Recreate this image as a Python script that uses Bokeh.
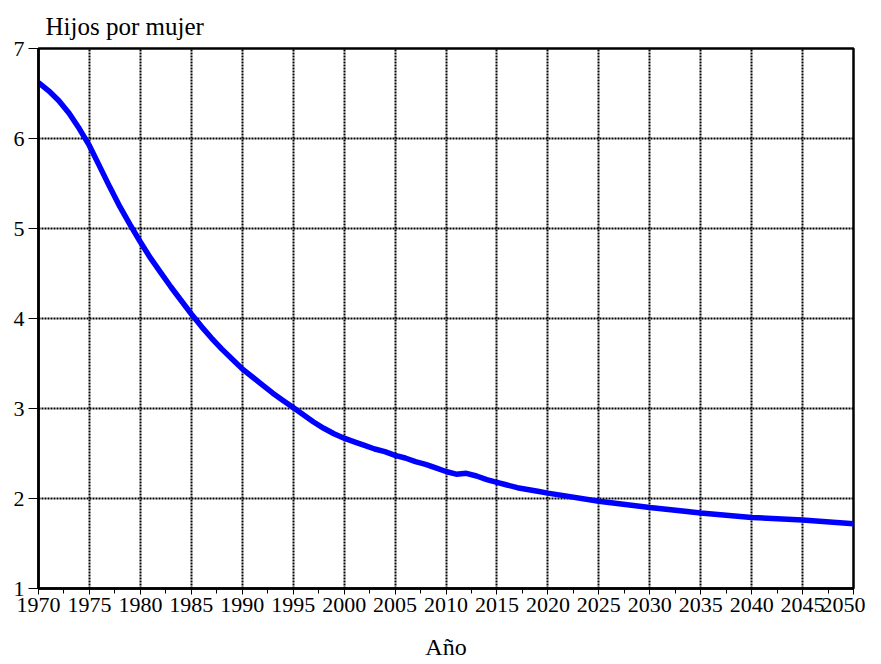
from bokeh.plotting import figure
from bokeh.models import Range1d, FixedTicker, Title
from bokeh.embed import file_html
from bokeh.resources import INLINE

years = list(range(1970, 2021)) + [2025, 2030, 2035, 2040, 2045, 2050]
tfr = [6.62, 6.53, 6.42, 6.28, 6.11, 5.92, 5.69, 5.46, 5.24, 5.04,
       4.85, 4.67, 4.51, 4.35, 4.20, 4.05, 3.91, 3.78, 3.66, 3.55,
       3.44, 3.35, 3.26, 3.17, 3.09, 3.01, 2.93, 2.85, 2.78, 2.72,
       2.67, 2.63, 2.59, 2.55, 2.52, 2.48, 2.45, 2.41, 2.38, 2.34,
       2.30, 2.27, 2.28, 2.25, 2.21, 2.18, 2.15, 2.12, 2.10, 2.08,
       2.06, 1.97, 1.90, 1.84, 1.79, 1.76, 1.72]

x_ticks = list(range(1970, 2051, 5))
x_minor = [t + 2.5 for t in range(1970, 2050, 5)]
y_ticks = [1, 2, 3, 4, 5, 6, 7]

FONT = "Liberation Serif"

p = figure(width=865, height=662, output_backend="svg", toolbar_location=None,
           x_range=Range1d(1970, 2050), y_range=Range1d(1, 7),
           min_border_left=38, min_border_right=12, min_border_top=48, min_border_bottom=74)
p.title = Title(text="Hijos por mujer", align="left", offset=7,
                text_font=FONT, text_font_size="25px", text_font_style="normal",
                text_color="black", standoff=17)

p.line(years, tfr, line_color="#0000FF", line_width=5.5)

p.xaxis.ticker = FixedTicker(ticks=x_ticks, minor_ticks=x_minor)
p.yaxis.ticker = FixedTicker(ticks=y_ticks)
p.xaxis.axis_label = "Año"

for ax in (p.xaxis[0], p.yaxis[0]):
    ax.axis_line_color = "black"
    ax.axis_line_width = 2.5
    ax.major_tick_line_color = "black"
    ax.major_tick_line_width = 1
    ax.major_tick_in = 0
    ax.minor_tick_line_color = "black"
    ax.minor_tick_in = 0
    ax.minor_tick_out = 5
    ax.major_label_text_font = FONT
    ax.major_label_text_font_size = "22px"
    ax.major_label_text_color = "black"
    ax.axis_label_text_font = FONT
    ax.axis_label_text_font_size = "24px"
    ax.axis_label_text_font_style = "normal"
    ax.axis_label_text_color = "black"

p.xaxis.major_tick_out = 6
p.yaxis.major_tick_out = 10
p.xaxis.major_label_standoff = 3
p.xaxis.axis_label_standoff = 19
p.yaxis.major_label_standoff = 4

p.xgrid.ticker = FixedTicker(ticks=x_ticks)
p.ygrid.ticker = FixedTicker(ticks=y_ticks)
for g in (p.xgrid[0], p.ygrid[0]):
    g.grid_line_color = "black"
    g.grid_line_width = 2
    g.grid_line_dash = "2 1"

p.outline_line_color = "black"
p.outline_line_width = 2.5
p.background_fill_color = "white"
p.border_fill_color = "white"

open("out.html", "w").write(file_html(p, INLINE))
